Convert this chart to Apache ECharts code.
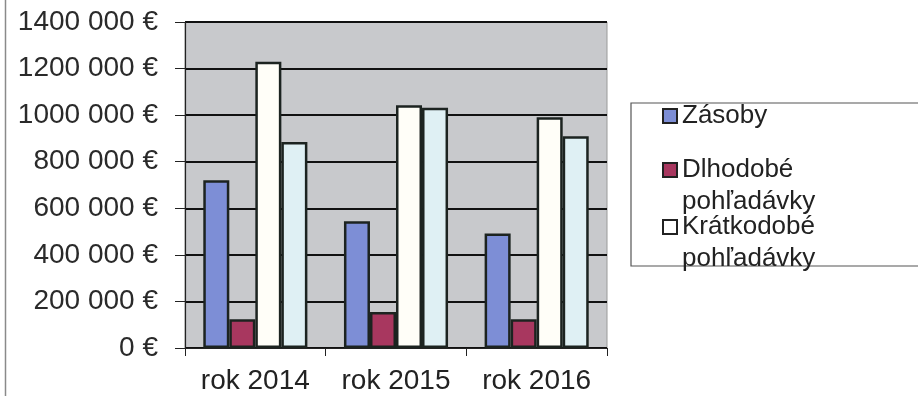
<!DOCTYPE html>
<html>
<head>
<meta charset="utf-8">
<script src="https://cdn.jsdelivr.net/npm/echarts@6/dist/echarts.min.js"></script>
<style>
  html, body { margin: 0; padding: 0; background: #fff; }
  #chart { width: 918px; height: 396px; }
</style>
</head>
<body>
<div id="chart"></div>
<script>
// Years on the category axis
const categories = ['rok 2014', 'rok 2015', 'rok 2016'];

// Values in euros per year
const zasoby = [720000, 544000, 492000];
const dlhodobe = [123000, 155000, 123000];
const kratkodobe = [1229000, 1042000, 991000];
const ostatne = [885000, 1032000, 909000];

// Value axis tick labels, from 0 upwards
const yTicks = ['0 €', '200 000 €', '400 000 €', '600 000 €', '800 000 €',
  '1000 000 €', '1200 000 €', '1400 000 €'];

const FONT = '"Liberation Sans", Arial, sans-serif';
const edge = { borderColor: '#1c2320', borderWidth: 2.5 };

const chart = echarts.init(document.getElementById('chart'));

const legendText = { fontFamily: FONT, fontSize: 26, color: '#222', lineHeight: 32 };
function legendBlock(name, top, icon, fmt) {
  return {
    data: [{ name: name, icon: 'rect', itemStyle: { color: icon, borderColor: '#222', borderWidth: 2 } }],
    left: 662, top: top, padding: 0, itemWidth: 14, itemHeight: 14, itemGap: 0,
    textStyle: legendText, formatter: fmt, selectedMode: false
  };
}

chart.setOption({
  animation: false,
  grid: {
    left: 185, right: 311, top: 22, bottom: 48,
    show: true, backgroundColor: '#c8c9cc', borderColor: '#9a9a9a', borderWidth: 1
  },
  graphic: [
    { type: 'line', shape: { x1: 5.5, y1: 0, x2: 5.5, y2: 396 }, style: { stroke: '#8a8a8a', lineWidth: 1.5 }, z: 0 },
    { type: 'rect', shape: { x: 631, y: 103, width: 300, height: 163 }, style: { fill: '#fff', stroke: '#555', lineWidth: 1.2 }, z: 0 }
  ],
  legend: [
    legendBlock('Zásoby', 100, '#7d8ed6', '{name}'),
    legendBlock('Dlhodobé pohľadávky', 122, '#a8375f', '\nDlhodobé\npohľadávky'),
    legendBlock('Krátkodobé pohľadávky', 179, '#ffffff', '\nKrátkodobé\npohľadávky')
  ],
  xAxis: {
    type: 'category',
    data: categories,
    axisLine: { lineStyle: { color: '#222', width: 1.2 } },
    axisTick: { show: true, length: 8, alignWithLabel: false, lineStyle: { color: '#222' } },
    axisLabel: { interval: 0, hideOverlap: false, fontFamily: FONT, fontSize: 28, color: '#222', margin: 19 },
    splitLine: { show: false }
  },
  yAxis: {
    type: 'value',
    min: 0, max: 1400000, interval: 200000,
    axisLine: { show: true, lineStyle: { color: '#222', width: 1.2 } },
    axisTick: { show: true, length: 10, lineStyle: { color: '#222' } },
    axisLabel: {
      fontFamily: FONT, fontSize: 28, color: '#2a2a2a', margin: 27,
      formatter: (v) => yTicks[Math.round(v / 200000)]
    },
    splitLine: { show: true, lineStyle: { color: '#111', width: 2 } }
  },
  series: [
    { name: 'Zásoby', type: 'bar', data: zasoby, barGap: '0%', barCategoryGap: '26%',
      itemStyle: Object.assign({ color: '#7d8ed6' }, edge) },
    { name: 'Dlhodobé pohľadávky', type: 'bar', data: dlhodobe,
      itemStyle: Object.assign({ color: '#a8375f' }, edge) },
    { name: 'Krátkodobé pohľadávky', type: 'bar', data: kratkodobe,
      itemStyle: Object.assign({ color: '#fffef8' }, edge) },
    { name: 'Ostatné', type: 'bar', data: ostatne,
      itemStyle: Object.assign({ color: '#dff0f4' }, edge) }
  ]
});
</script>
</body>
</html>
